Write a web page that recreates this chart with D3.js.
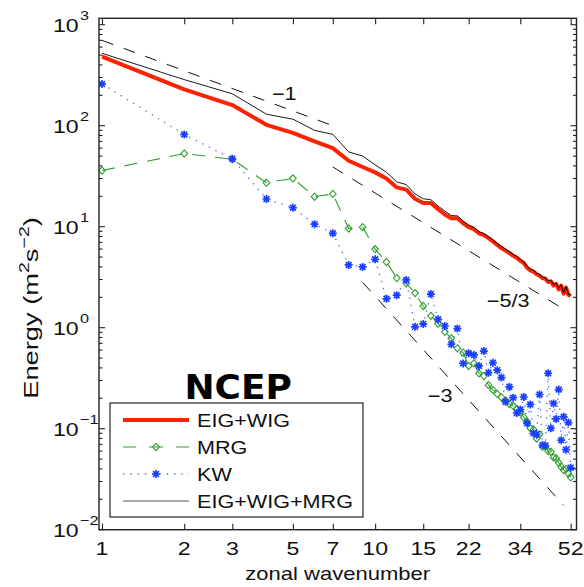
<!DOCTYPE html>
<html><head><meta charset="utf-8">
<script src="https://cdn.jsdelivr.net/npm/d3@7"></script>
<style>body{margin:0;background:#fff} svg{display:block}</style>
</head><body><svg id="c" width="584" height="587"></svg>
<script>
const wavenumber = [1,2,3,4,5,6,7,8,9,10,11,12,13,14,15,16,17,18,19,20,21,22,23,24,25,26,27,28,29,30,31,32,33,34,35,36,37,38,39,40,41,42,43,44,45,46,47,48,49,50,51,52];
const eigWig = [483,229,160,102,85,70,60,45,39,34.5,30,24.5,23.3,18.9,17.2,17.2,14.9,13.2,12.1,12.1,10.8,9.9,9.45,8.6,8.25,7.7,7.15,6.6,6.15,5.8,5.5,5.15,4.93,4.6,4.38,3.92,3.7,3.6,3.38,3.27,3.1,3.05,2.83,2.88,2.61,2.72,2.39,2.61,2.17,2.5,2.12,2.06];
const mrg = [36,53,46.5,27.3,30.1,19.8,21.1,9.6,9.9,6.0,4.47,3.1,2.75,2.2,1.64,1.31,1.1,0.91,0.785,0.625,0.565,0.418,0.444,0.353,0.332,0.271,0.242,0.221,0.205,0.19,0.176,0.168,0.158,0.147,0.13,0.117,0.101,0.098,0.08,0.088,0.066,0.067,0.06,0.059,0.052,0.051,0.046,0.042,0.039,0.04,0.036,0.033];
const kw = [259,82,47,18.8,15.4,10.6,8.6,4.18,4.0,4.75,1.93,2.1,2.97,1.02,1.09,2.15,1.21,1.04,0.686,0.98,0.443,0.558,0.537,0.418,0.587,0.358,0.45,0.38,0.321,0.185,0.26,0.203,0.143,0.155,0.206,0.113,0.174,0.09,0.088,0.218,0.069,0.068,0.354,0.101,0.178,0.125,0.244,0.077,0.131,0.062,0.115,0.041];
const eigWigMrg = [521,286,207,130,116,90,82,55,50,41,34.6,27.8,26.1,21.1,18.9,18.5,16,14.3,12.9,12.8,11.4,10.4,9.9,8.9,8.6,8.0,7.4,6.8,6.4,6.0,5.65,5.33,5.1,4.75,4.5,4.05,3.82,3.7,3.47,3.37,3.18,3.13,2.9,2.95,2.67,2.78,2.45,2.66,2.22,2.55,2.15,2.1];

const xTickValues = [1,2,3,5,7,10,15,22,34,52];
const yTickExponents = [-2,-1,0,1,2,3];
const legendLabels = ["EIG+WIG","MRG","KW","EIG+WIG+MRG"];
const refLabels = ["\u22121","\u22125/3","\u22123"];
const refExponent = [-1,-5/3,-3];
const refCoef = [700,1000,2050];
const refStartK = [1,7,9];
const refEndK = [7,49,49];
const refLabelK = [4.65,30.7,17.3];
const refLabelE = [178,1.6,0.184];
const titleText = "NCEP";
const titleK = 3.15, titleE = 0.197;

const RED = "#ff2200", GREEN = "#2e9e2e", BLUE = "#1a40ff", BLUEDOT = "#4866ff";
const FONT = "'Liberation Sans', Arial, Helvetica, sans-serif";

const svg = d3.select("#c");
const x = d3.scaleLog().domain([1, 52]).range([102, 570.7]);
const y = d3.scaleLog().domain([1e-2, 1e3]).range([529.7, 24.7]);
const L = 99, R = 576.5, T = 18.3, B = y(1e-2);

function sText(parent, px, py, sx, str, size, anchor) {
  const t = parent.append("text")
    .attr("transform", `translate(${px},${py}) scale(${sx},1)`)
    .attr("text-anchor", anchor || "start")
    .attr("font-family", FONT).attr("font-size", size).attr("fill", "#111");
  if (str !== null) t.text(str);
  return t;
}

svg.append("defs").append("clipPath").attr("id", "clip")
  .append("rect").attr("x", L).attr("y", T).attr("width", R - L).attr("height", B - T);

const plot = svg.append("g").attr("clip-path", "url(#clip)");

// reference slope lines
refCoef.forEach((c, i) => {
  const pts = [refStartK[i], refEndK[i]].map(k => [x(k), y(c * Math.pow(k, refExponent[i]))]);
  plot.append("path").attr("d", d3.line()(pts))
    .attr("fill", "none").attr("stroke", "#111").attr("stroke-width", 1)
    .attr("stroke-dasharray", "12,11");
});

const line = d3.line().x((d, i) => x(wavenumber[i])).y(d => y(d));

// EIG+WIG
plot.append("path").attr("d", line(eigWig)).attr("fill", "none")
  .attr("stroke", RED).attr("stroke-width", 4).attr("stroke-linejoin", "round");

// MRG
plot.append("path").attr("d", line(mrg)).attr("fill", "none")
  .attr("stroke", GREEN).attr("stroke-width", 1.1).attr("stroke-dasharray", "13,10");
const diamond = "M0,-3.6L3.3,0L0,3.6L-3.3,0Z";
plot.selectAll(".mrgm").data(mrg).join("path")
  .attr("transform", (d, i) => `translate(${x(wavenumber[i])},${y(d)})`)
  .attr("d", diamond).attr("fill", "none").attr("stroke", GREEN).attr("stroke-width", 1.1);

// KW
plot.append("path").attr("d", line(kw)).attr("fill", "none")
  .attr("stroke", BLUEDOT).attr("stroke-width", 1.3).attr("stroke-dasharray", "1.3,6");
const aster = "M-4,0H4M0,-4V4M-2.9,-2.9L2.9,2.9M-2.9,2.9L2.9,-2.9";
plot.selectAll(".kwm").data(kw).join("path")
  .attr("transform", (d, i) => `translate(${x(wavenumber[i])},${y(d)})`)
  .attr("d", aster).attr("fill", "none").attr("stroke", BLUE).attr("stroke-width", 1.7);

// EIG+WIG+MRG
plot.append("path").attr("d", line(eigWigMrg)).attr("fill", "none")
  .attr("stroke", "#000").attr("stroke-width", 0.9);

// axes ticks
const yMinor = [];
for (let e = -2; e < 3; e++) for (let m = 2; m <= 9; m++) yMinor.push(m * Math.pow(10, e));
const yMajor = yTickExponents.map(e => Math.pow(10, e));
const axG = svg.append("g").attr("stroke", "#222").attr("stroke-width", 1.1);
yMajor.forEach(v => {
  axG.append("line").attr("x1", L).attr("x2", L + 6).attr("y1", y(v)).attr("y2", y(v));
  axG.append("line").attr("x1", R).attr("x2", R - 6).attr("y1", y(v)).attr("y2", y(v));
});
yMinor.forEach(v => {
  axG.append("line").attr("x1", L).attr("x2", L + 3.5).attr("y1", y(v)).attr("y2", y(v));
  axG.append("line").attr("x1", R).attr("x2", R - 3.5).attr("y1", y(v)).attr("y2", y(v));
});
svg.append("g").attr("transform", `translate(0,${B})`)
  .call(d3.axisBottom(x).tickValues(xTickValues).tickSize(-6).tickFormat(""))
  .call(g => { g.select(".domain").remove(); g.selectAll("line").attr("stroke", "#222").attr("stroke-width", 1.1); });
svg.append("g").attr("transform", `translate(0,${T})`)
  .call(d3.axisTop(x).tickValues(xTickValues).tickSize(-6).tickFormat(""))
  .call(g => { g.select(".domain").remove(); g.selectAll("line").attr("stroke", "#222").attr("stroke-width", 1.1); });

svg.append("rect").attr("x", L).attr("y", T).attr("width", R - L).attr("height", B - T)
  .attr("fill", "none").attr("stroke", "#222").attr("stroke-width", 1.4);

// tick labels
xTickValues.forEach(v => sText(svg, x(v), 555, 1.25, String(v), 18.5, "middle"));
yTickExponents.forEach(e => {
  const t = sText(svg, 53, y(Math.pow(10, e)) + 7, 1.25, null, 18.5, "start");
  t.append("tspan").text("10");
  t.append("tspan").attr("dx", 1).attr("dy", -12).attr("font-size", 13)
    .text(e < 0 ? "\u2212" + Math.abs(e) : String(e));
});

// axis titles
sText(svg, (L + R) / 2, 580, 1.26, "zonal wavenumber", 17.5, "middle");
const yt = svg.append("text")
  .attr("transform", "translate(38,308) rotate(-90) scale(1.3,1)")
  .attr("text-anchor", "middle").attr("font-family", FONT).attr("font-size", 21).attr("fill", "#111");
yt.append("tspan").text("Energy (m");
yt.append("tspan").attr("dy", -9).attr("font-size", 15).text("2");
yt.append("tspan").attr("dy", 9).text("s");
yt.append("tspan").attr("dy", -9).attr("font-size", 15).text("\u22122");
yt.append("tspan").attr("dy", 9).text(")");

// slope labels
refLabels.forEach((s, i) => sText(svg, x(refLabelK[i]), y(refLabelE[i]), 1.2, s, 18, "middle"));

// title NCEP
svg.append("text").attr("transform", `translate(${x(titleK)},${y(titleE)}) scale(1.09,1)`)
  .attr("text-anchor", "middle").attr("font-family", "'DejaVu Sans', sans-serif")
  .attr("font-weight", "bold").attr("font-size", 33).attr("fill", "#000").text(titleText);

// legend
const lg = svg.append("g");
lg.append("rect").attr("x", 110).attr("y", 403).attr("width", 253).attr("height", 114)
  .attr("fill", "#fff").attr("stroke", "#111").attr("stroke-width", 1.1);
const rows = [420, 447, 474, 501];
const lx1 = 123, lx2 = 189, lmx = 156;
lg.append("line").attr("x1", lx1).attr("x2", lx2).attr("y1", rows[0]).attr("y2", rows[0])
  .attr("stroke", RED).attr("stroke-width", 4);
lg.append("line").attr("x1", lx1).attr("x2", lx2).attr("y1", rows[1]).attr("y2", rows[1])
  .attr("stroke", GREEN).attr("stroke-width", 1.1).attr("stroke-dasharray", "13,13,14,13,13");
lg.append("path").attr("transform", `translate(${lmx},${rows[1]})`).attr("d", diamond)
  .attr("fill", "none").attr("stroke", GREEN).attr("stroke-width", 1.1);
lg.append("line").attr("x1", lx1).attr("x2", lx2).attr("y1", rows[2]).attr("y2", rows[2])
  .attr("stroke", BLUEDOT).attr("stroke-width", 1.3).attr("stroke-dasharray", "1.3,6");
lg.append("path").attr("transform", `translate(${lmx},${rows[2]})`).attr("d", aster)
  .attr("fill", "none").attr("stroke", BLUE).attr("stroke-width", 1.7);
lg.append("line").attr("x1", lx1).attr("x2", lx2).attr("y1", rows[3]).attr("y2", rows[3])
  .attr("stroke", "#555").attr("stroke-width", 1);
legendLabels.forEach((s, i) => sText(lg, 197, rows[i] + 6.5, 1.2, s, 18, "start"));
</script></body></html>
